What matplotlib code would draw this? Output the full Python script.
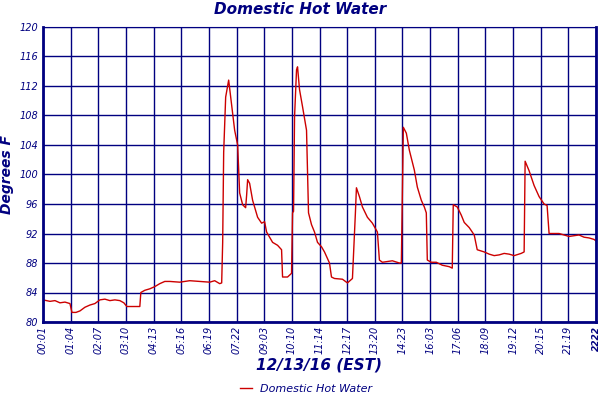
import matplotlib
matplotlib.use("Agg")
import matplotlib.pyplot as plt

tick_labels = ["00:01","01:04","02:07","03:10","04:13","05:16","06:19","07:22","09:03","10:10",
               "11:14","12:17","13:20","14:23","16:03","17:06","18:09","19:12","20:15","21:19","2222"]
# sample positions in tick-interval units and temperature (deg F)
px = [43,50,55,60,65,70,72,76,80,85,90,95,100,105,110,115,120,124,127,135,140,141,145,150,155,160,165,170,
      180,190,200,210,215,220,222,223,224,226,229,232,233,235,238,240,243,246,247,248,250,253,258,262,265,
      267,270,273,278,282,283,288,292,293,294,295,297,298,300,303,307,308,309,312,315,318,322,325,330,332,
      335,343,348,353,354,356,357,360,363,368,373,378,380,383,393,400,402,403,404,407,410,415,418,422,425,
      427,428,432,437,443,450,453,454,458,462,465,470,475,478,485,490,495,500,505,510,515,522,525,526,530,
      535,540,545,548,550,560,565,570,575,580,585,590,595,597]
vals = [83,82.8,82.9,82.6,82.7,82.5,81.3,81.3,81.5,82,82.3,82.5,83,83.1,82.9,83,82.9,82.6,82.1,82.1,82.1,84,
        84.3,84.5,84.8,85.2,85.5,85.5,85.4,85.6,85.5,85.4,85.6,85.2,85.3,90.8,103,110.5,112.8,109.4,108.3,106,
        104,97.5,95.9,95.5,97.2,99.3,98.8,96.5,94.2,93.4,93.6,92.2,91.5,90.8,90.4,89.8,86.1,86.1,86.6,94.8,
        95,107.8,114.2,114.6,111.5,109.2,106,100.2,94.8,93.2,92.2,90.8,90.2,89.5,88,86.1,85.9,85.8,85.3,85.9,
        88.8,94.9,98.2,97,95.6,94.2,93.4,92.2,88.4,88.1,88.3,88,88,97.5,106.4,105.6,103.3,100.6,98.3,96.5,95.6,
        94.8,88.4,88.1,88.1,87.7,87.5,87.3,95.9,95.6,94.5,93.5,92.8,91.8,89.8,89.5,89.2,89,89.1,89.3,89.2,
        89,89.3,89.5,101.8,100.5,98.5,97,96,95.8,92,92,91.8,91.6,91.7,91.8,91.5,91.4,91.2,91]
xpos = [(p - 43) / 27.7 for p in px]

navy = "#000080"
fig = plt.figure(figsize=(6, 4), dpi=100)
ax = fig.add_axes([43/600, 78/400, 553/600, 295/400])
ax.plot(xpos, vals, color="#cc0000", lw=1, label="Domestic Hot Water")
ax.set_xlim(0, 20)
ax.set_ylim(80, 120)
ax.set_yticks(range(80, 121, 4))
ax.set_xticks(range(21))
ax.set_xticklabels(tick_labels, rotation=90, fontsize=7, style="italic", color=navy)
ax.get_xticklabels()[-1].set_fontweight("bold")
ax.get_xticklabels()[-1].set_fontsize(6.5)
ax.tick_params(axis="y", labelsize=7, labelcolor=navy, length=0)
for t in ax.get_yticklabels():
    t.set_style("italic")
ax.tick_params(axis="x", length=0, pad=3)
ax.grid(True, color=navy, lw=1)
for s in ax.spines.values():
    s.set_color(navy)
ax.spines["left"].set_linewidth(2)
ax.spines["bottom"].set_linewidth(2)
ax.spines["right"].set_linewidth(2)
ax.set_ylabel("Degrees F", fontsize=10, style="italic", weight="bold", color=navy)
ax.set_xlabel("12/13/16 (EST)", fontsize=11, style="italic", weight="bold", color=navy, labelpad=2)
fig.text(0.5, 0.975, "Domestic Hot Water", ha="center", va="center", fontsize=11,
         style="italic", weight="bold", color=navy)
ax.legend(loc="center", bbox_to_anchor=(0.5 - 13/555, -0.228), frameon=False,
          handlelength=1, labelcolor=navy, prop={"style": "italic", "size": 8})
fig.savefig("out.png")
